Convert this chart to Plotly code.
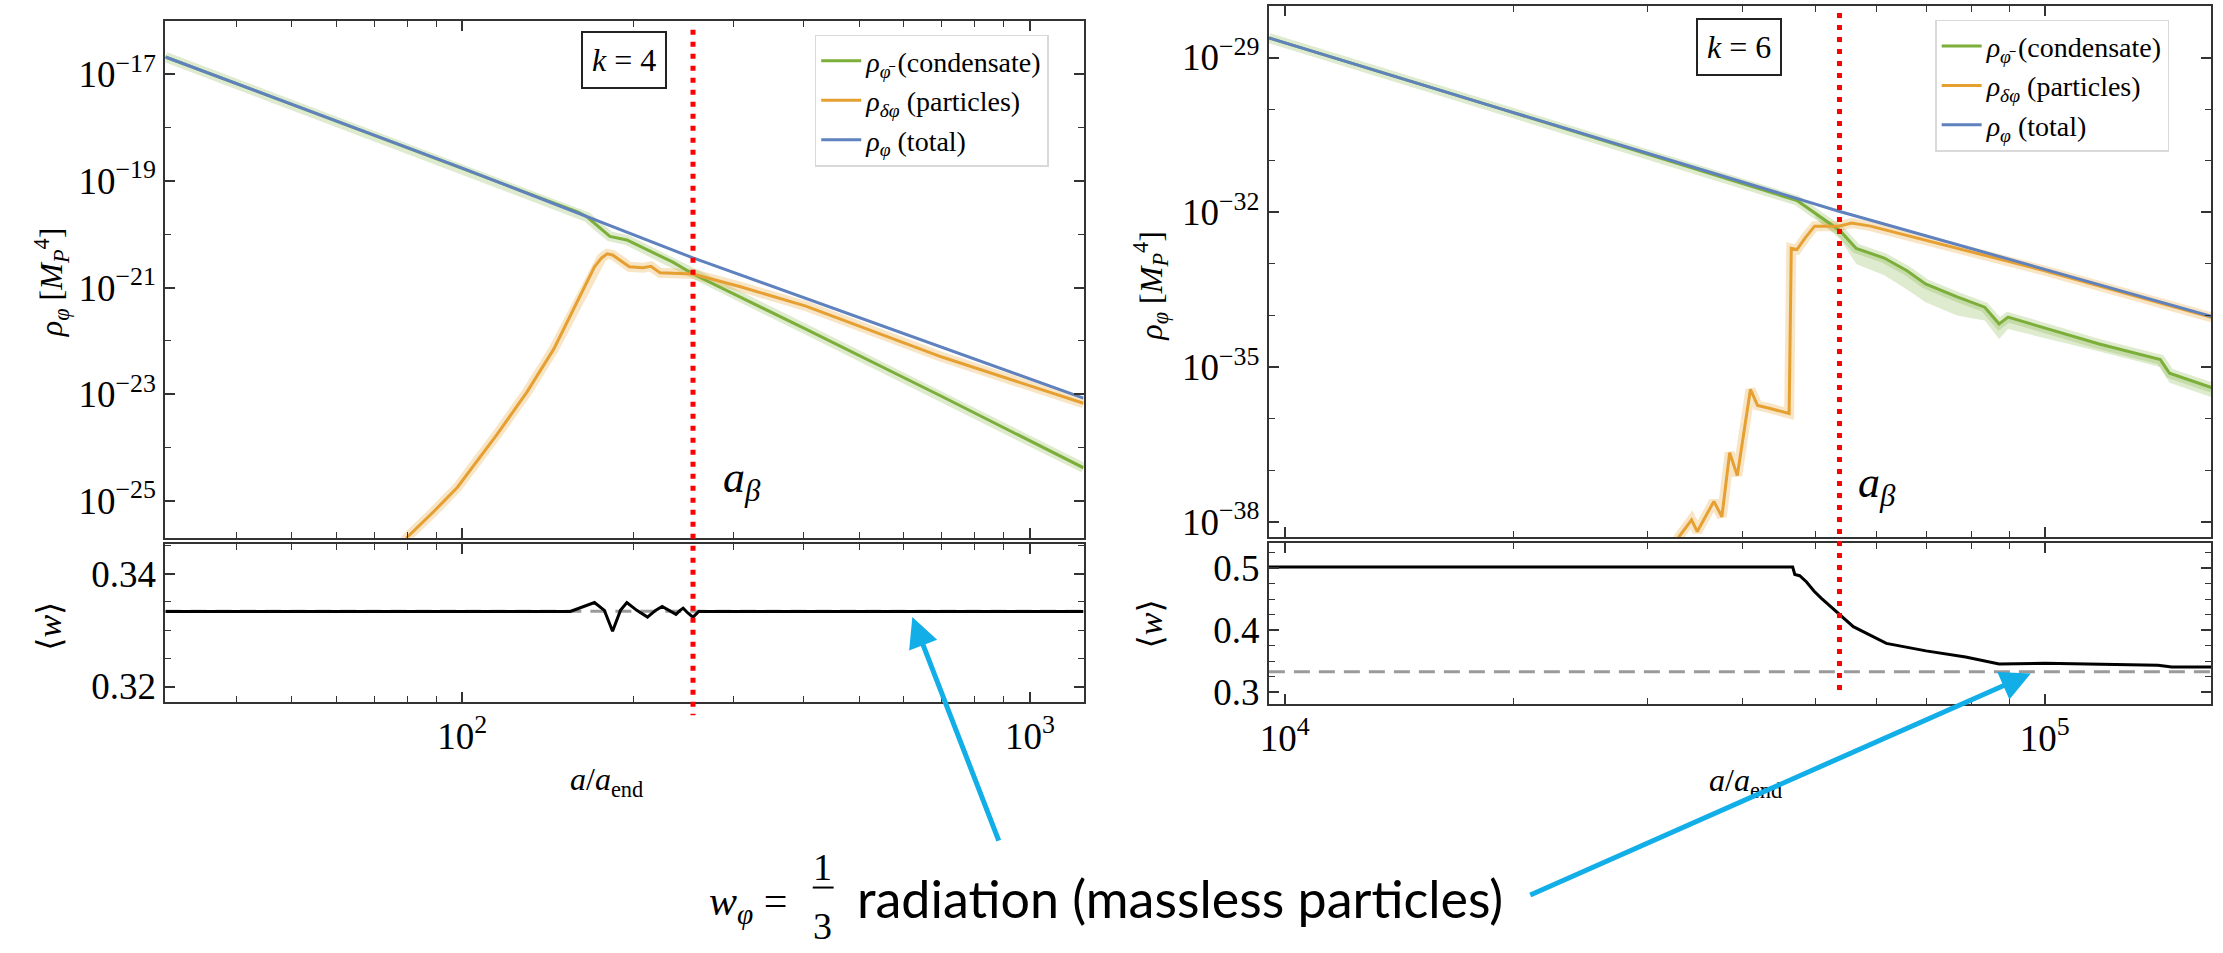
import plotly.graph_objects as go

# ---------------- data: left panel (k = 4) ----------------
L_total_x = [30, 100, 255, 1243]
L_total_y = [2.1e-17, 1.74e-19, 3.6e-21, 8.5e-24]

L_cond_x = [30, 100, 160, 166, 172, 182, 195, 235, 255, 308, 403, 700, 1243]
L_cond_y = [2.1e-17, 1.74e-19, 2.6e-20, 2.1e-20, 1.5e-20, 9.1e-21, 7.8e-21,
            3.0e-21, 1.8e-21, 6.8e-22, 1.66e-22, 9.1e-24, 4.2e-25]

L_part_x = [77, 80, 89, 98, 115, 130, 145, 159, 171, 176, 180, 184, 189, 197,
            208, 215, 223, 240, 255, 308, 403, 700, 1243]
L_part_y = [1.2e-26, 2.1e-26, 6.3e-26, 1.8e-25, 1.74e-24, 1.1e-23, 7.1e-23,
            5.0e-22, 2.45e-21, 3.6e-21, 4.3e-21, 4.1e-21, 3.4e-21, 2.45e-21,
            2.35e-21, 2.5e-21, 1.9e-21, 1.85e-21, 1.8e-21, 1.05e-21, 4.5e-22,
            5.0e-23, 6.8e-24]

L_w_x = [30, 155, 171, 178, 184, 190, 195, 203, 212, 219, 225, 232, 238, 242,
         245, 250, 255, 261, 1243]
L_w_y = [0.3333, 0.3333, 0.3349, 0.3335, 0.3298, 0.3335, 0.3349, 0.3335,
         0.3323, 0.3335, 0.3342, 0.3335, 0.3328, 0.3335, 0.3339, 0.3330,
         0.3323, 0.3333, 0.3333]
L_abeta = 255

# ---------------- data: right panel (k = 6) ----------------
R_total_x = [9.53e3, 1.94e4, 5.36e4, 1.66e5]
R_total_y = [2.4e-29, 9.8e-31, 1.05e-32, 9.6e-35]

R_cond_x = [9.53e3, 1.94e4, 4.72e4, 4.99e4, 5.38e4, 5.65e4, 6.15e4, 6.59e4,
            6.97e4, 7.67e4, 8.34e4, 8.71e4, 8.95e4, 1.18e5, 1.42e5, 1.46e5,
            1.66e5]
R_cond_y = [2.4e-29, 9.8e-31, 1.7e-32, 9.5e-33, 4.4e-33, 2.0e-33, 1.3e-33,
            7.4e-34, 4.1e-34, 2.3e-34, 1.45e-34, 6.9e-35, 9.3e-35, 2.8e-35,
            1.4e-35, 7.6e-36, 4.0e-36]
# lower edge of the condensate spread (from x = 4.99e4 on)
R_cond_lo = [8.0e-33, 3.0e-33, 1.0e-33, 6.0e-34, 3.2e-34, 1.8e-34, 1.0e-34,
             8.0e-35, 3.5e-35, 5.5e-35, 2.0e-35, 1.0e-35, 5.0e-36, 2.6e-36]

R_part_x = [3.25e4, 3.30e4, 3.43e4, 3.49e4, 3.67e4, 3.76e4, 3.85e4, 3.94e4,
            4.10e4, 4.19e4, 4.34e4, 4.55e4, 4.61e4, 4.64e4, 4.72e4, 4.84e4,
            4.98e4, 5.36e4, 5.57e4, 5.90e4, 1.0e5, 1.66e5]
R_part_y = [2.5e-39, 5.1e-39, 1.1e-38, 6.5e-39, 2.5e-38, 1.26e-38, 2.2e-37,
            7.9e-38, 3.7e-36, 1.8e-36, 1.6e-36, 1.3e-36, 1.26e-36, 2.0e-33,
            1.9e-33, 3.2e-33, 5.4e-33, 5.4e-33, 6.2e-33, 5.4e-33, 7.4e-34,
            9.2e-35]

R_w_x = [9.53e3, 4.66e4, 4.69e4, 4.76e4, 4.86e4, 4.97e4, 5.08e4, 5.38e4,
         5.60e4, 6.19e4, 6.98e4, 7.87e4, 8.71e4, 1.0e5, 1.41e5, 1.47e5, 1.66e5]
R_w_y = [0.502, 0.502, 0.490, 0.488, 0.478, 0.4635, 0.452, 0.4254, 0.406,
         0.379, 0.367, 0.357, 0.346, 0.347, 0.344, 0.341, 0.341]
R_abeta = 5.37e4

W_RAD = 1 / 3

# ---------------- style ----------------
GREEN = "#7cae3a"
ORANGE = "#e6a032"
BLUE = "#5f82be"
GREEN_BAND = "rgba(124,174,58,0.25)"
ORANGE_BAND = "rgba(230,160,50,0.28)"
CYAN = "#12aee8"
SERIF = "Liberation Serif, DejaVu Serif, Times New Roman, serif"
FRAME = "#333333"

W, H = 2223, 953

fig = go.Figure()

def halo(x, y, color, xa, ya):
    fig.add_trace(go.Scatter(x=x, y=y, mode="lines", xaxis=xa, yaxis=ya,
                             line=dict(color=color, width=10),
                             showlegend=False, hoverinfo="skip"))

def curve(x, y, color, name, xa, ya, legend, show=True):
    fig.add_trace(go.Scatter(x=x, y=y, mode="lines", name=name, xaxis=xa,
                             yaxis=ya, legend=legend, showlegend=show,
                             line=dict(color=color, width=3)))

COND = "<i>ρ</i><sub><i>φ̄</i></sub> (condensate)"
PART = "<i>ρ</i><sub><i>δφ</i></sub> (particles)"
TOT = "<i>ρ</i><sub><i>φ</i></sub> (total)"

# left top
halo(L_cond_x, L_cond_y, GREEN_BAND, "x", "y")
halo(L_part_x, L_part_y, ORANGE_BAND, "x", "y")
curve(L_cond_x, L_cond_y, GREEN, COND, "x", "y", "legend")
curve(L_part_x, L_part_y, ORANGE, PART, "x", "y", "legend")
curve(L_total_x, L_total_y, BLUE, TOT, "x", "y", "legend")
# left bottom
fig.add_trace(go.Scatter(x=L_w_x, y=L_w_y, mode="lines", xaxis="x2", yaxis="y2",
                         line=dict(color="black", width=3), showlegend=False))

# right top
bx = R_cond_x[3:]
fig.add_trace(go.Scatter(x=bx + bx[::-1], y=R_cond_y[3:] + R_cond_lo[::-1],
                         fill="toself", fillcolor=GREEN_BAND, mode="none",
                         xaxis="x3", yaxis="y3", showlegend=False,
                         hoverinfo="skip"))
halo(R_cond_x, R_cond_y, GREEN_BAND, "x3", "y3")
halo(R_part_x, R_part_y, ORANGE_BAND, "x3", "y3")
curve(R_cond_x, R_cond_y, GREEN, COND, "x3", "y3", "legend2")
curve(R_part_x, R_part_y, ORANGE, PART, "x3", "y3", "legend2")
curve(R_total_x, R_total_y, BLUE, TOT, "x3", "y3", "legend2")
# right bottom
fig.add_trace(go.Scatter(x=R_w_x, y=R_w_y, mode="lines", xaxis="x4", yaxis="y4",
                         line=dict(color="black", width=3), showlegend=False))

# ---------------- axes ----------------
def px_x(p):
    return p / W

def px_y(p):
    return 1 - p / H

LX = [px_x(157), px_x(1079)]
RX = [px_x(1265), px_x(2211)]
LT = [px_y(543), px_y(21)]
LB = [px_y(709), px_y(549)]
RT = [px_y(542), px_y(6)]
RB = [px_y(711), px_y(548)]

tickfont = dict(family=SERIF, size=37, color="black")
common = dict(showline=True, linecolor=FRAME, linewidth=2, mirror="ticks",
              ticks="inside", ticklen=10, tickwidth=1.5, tickcolor=FRAME,
              showgrid=False, zeroline=False, tickfont=tickfont)

def minor_log(lo, hi):
    vals = []
    for e in range(lo, hi):
        for m in range(2, 10):
            vals.append(m * 10 ** e)
    return vals

def minor_dec(lo, hi):
    return [10.0 ** e for e in range(lo, hi + 1)]

lx_range = [1.477, 3.0947]
rx_range = [3.979, 5.219]

xminL = dict(ticks="inside", ticklen=6, tickwidth=1.2, tickcolor=FRAME,
             tickvals=minor_log(1, 4), showgrid=False)
xminR = dict(ticks="inside", ticklen=6, tickwidth=1.2, tickcolor=FRAME,
             tickvals=minor_log(3, 6), showgrid=False)

fig.update_layout(
    xaxis=dict(common, type="log", domain=LX, anchor="y", range=lx_range,
               tickvals=[100, 1000], showticklabels=False, minor=xminL),
    xaxis2=dict(common, type="log", domain=LX, anchor="y2", range=lx_range,
                tickvals=[100, 1000], ticktext=["10<sup>2</sup>", "10<sup>3</sup>"],
                minor=xminL),
    xaxis3=dict(common, type="log", domain=RX, anchor="y3", range=rx_range,
                tickvals=[1e4, 1e5], showticklabels=False, minor=xminR),
    xaxis4=dict(common, type="log", domain=RX, anchor="y4", range=rx_range,
                tickvals=[1e4, 1e5], ticktext=["10<sup>4</sup>", "10<sup>5</sup>"],
                minor=xminR),
    yaxis=dict(common, type="log", domain=LT, anchor="x", range=[-25.69, -16.0],
               tickvals=[1e-17, 1e-19, 1e-21, 1e-23, 1e-25],
               ticktext=["10<sup>−17</sup>", "10<sup>−19</sup>", "10<sup>−21</sup>",
                         "10<sup>−23</sup>", "10<sup>−25</sup>"],
               minor=dict(ticks="inside", ticklen=6, tickwidth=1.2, tickcolor=FRAME,
                          tickvals=minor_dec(-26, -16), showgrid=False)),
    yaxis2=dict(common, domain=LB, anchor="x2", range=[0.3172, 0.3453],
                tickvals=[0.32, 0.34], ticktext=["0.32", "0.34"],
                minor=dict(ticks="inside", ticklen=6, tickwidth=1.2, tickcolor=FRAME,
                           dtick=0.005, tick0=0.3, showgrid=False)),
    yaxis3=dict(common, type="log", domain=RT, anchor="x3", range=[-38.29, -28.0],
                tickvals=[1e-29, 1e-32, 1e-35, 1e-38],
                ticktext=["10<sup>−29</sup>", "10<sup>−32</sup>", "10<sup>−35</sup>",
                          "10<sup>−38</sup>"],
                minor=dict(ticks="inside", ticklen=6, tickwidth=1.2, tickcolor=FRAME,
                           tickvals=minor_dec(-39, -28), showgrid=False)),
    yaxis4=dict(common, domain=RB, anchor="x4", range=[0.281, 0.541],
                tickvals=[0.3, 0.4, 0.5], ticktext=["0.3", "0.4", "0.5"],
                minor=dict(ticks="inside", ticklen=6, tickwidth=1.2, tickcolor=FRAME,
                           dtick=0.025, tick0=0.3, showgrid=False)),
)

legend_common = dict(bgcolor="rgba(255,255,255,0.85)", bordercolor="#d9d9d9",
                     borderwidth=1.5, font=dict(family=SERIF, size=28, color="black"),
                     xanchor="left", yanchor="top", itemwidth=40,
                     tracegroupgap=0)
fig.update_layout(
    width=W, height=H, margin=dict(l=0, r=0, t=0, b=0),
    paper_bgcolor="white", plot_bgcolor="white",
    legend=dict(legend_common, x=px_x(809), y=px_y(35)),
    legend2=dict(legend_common, x=px_x(1934), y=px_y(20)),
)

# ---------------- shapes ----------------
red_dot = dict(color="#ff0000", width=5, dash="5px,7px")
fig.add_shape(type="line", xref="x", yref="paper", x0=L_abeta, x1=L_abeta,
              y0=px_y(30), y1=px_y(722), line=red_dot, layer="above")
fig.add_shape(type="line", xref="x3", yref="paper", x0=R_abeta, x1=R_abeta,
              y0=px_y(13), y1=px_y(703), line=red_dot, layer="above")
gray_dash = dict(color="#9a9a9a", width=3, dash="16px,9px")
fig.add_shape(type="line", xref="x2 domain", yref="y2", x0=0, x1=1,
              y0=W_RAD, y1=W_RAD, line=gray_dash, layer="below")
fig.add_shape(type="line", xref="x4 domain", yref="y4", x0=0, x1=1,
              y0=W_RAD, y1=W_RAD, line=gray_dash, layer="below")

# ---------------- annotations ----------------
def txt(x, y, text, size=30, angle=0, family=SERIF, xanchor="center", **kw):
    fig.add_annotation(x=px_x(x), y=px_y(y), xref="paper", yref="paper",
                       text=text, showarrow=False, textangle=angle,
                       xanchor=xanchor, yanchor="middle",
                       font=dict(family=family, size=size, color="black"), **kw)

ylab = "<i>ρ</i><sub><i>φ</i></sub> [<i>M</i><sub><i>P</i></sub><sup>4</sup>]"
txt(42, 285, ylab, size=32, angle=-90)
txt(1146, 288, ylab, size=32, angle=-90)
wlab = "⟨<i>w</i>⟩"
txt(40, 632, wlab, size=34, angle=-90)
txt(1146, 630, wlab, size=34, angle=-90)
xlab = "<i>a</i>/<i>a</i><sub>end</sub>"
txt(600, 789, xlab, size=32)
txt(1744, 790, xlab, size=32)

abeta = "<i>a</i><sub><i>β</i></sub>"
txt(736, 485, abeta, size=44)
txt(1876, 490, abeta, size=44)

box = dict(bordercolor="#222222", borderwidth=2, borderpad=9, bgcolor="white")
txt(618, 61, "<i>k</i> = 4", size=32, **box)
txt(1737, 47, "<i>k</i> = 6", size=32, **box)

# bottom note
txt(742, 913, "<i>w</i><sub><i>φ</i></sub> =", size=42)
txt(817, 875, "1", size=38)
txt(817, 935, "3", size=38)
fig.add_shape(type="line", xref="paper", yref="paper", x0=px_x(807), x1=px_x(828),
              y0=px_y(896), y1=px_y(896), line=dict(color="black", width=2))
txt(849, 907, "radiation (massless particles)", size=52, family="Lato",
    xanchor="left")

for tail, head in [((994, 848), (907, 623)), ((1528, 902), (2030, 680))]:
    fig.add_annotation(x=px_x(head[0]), y=px_y(head[1]), xref="paper", yref="paper",
                       ax=tail[0] - head[0], ay=tail[1] - head[1], axref="pixel",
                       ayref="pixel", xanchor="center", yanchor="middle",
                       showarrow=True, arrowhead=2, arrowsize=1.2,
                       arrowwidth=5, arrowcolor=CYAN, text="")

fig.write_html("out.html")
